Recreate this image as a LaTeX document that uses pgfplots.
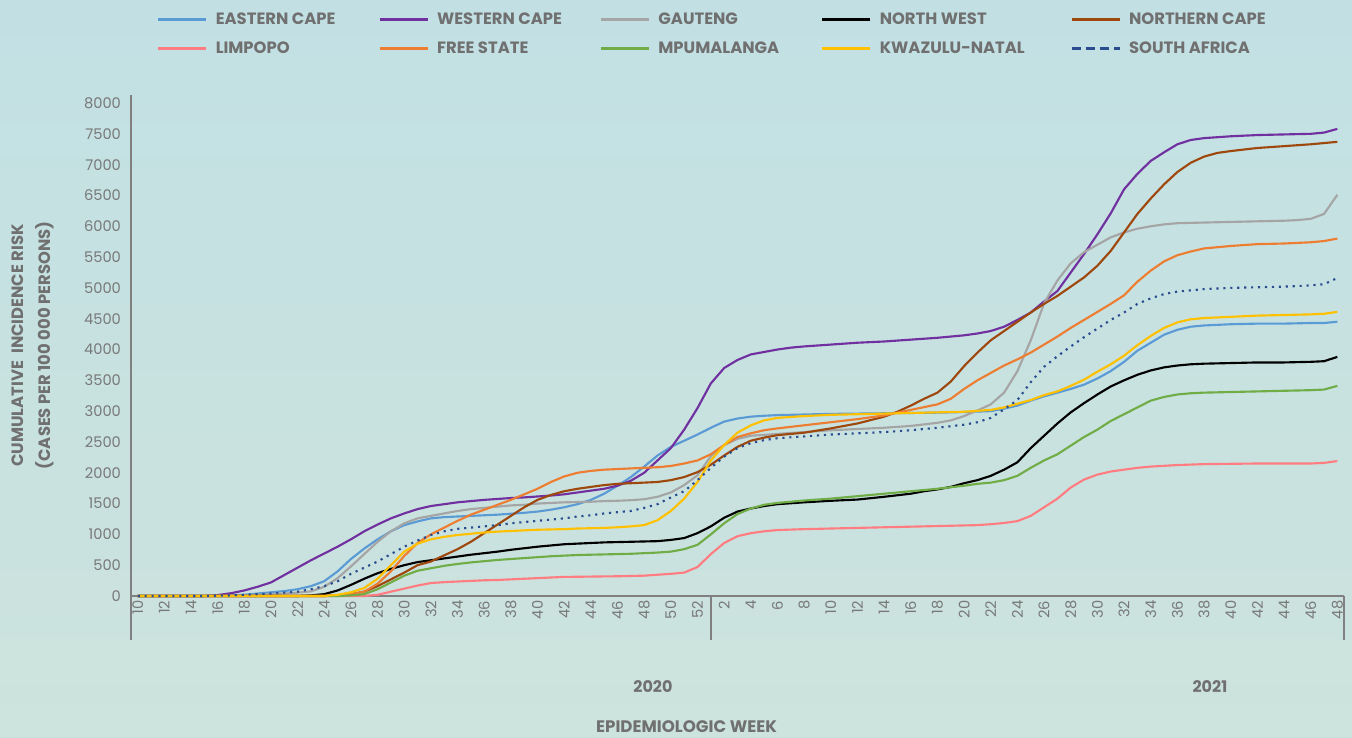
\documentclass[border=0pt]{standalone}
\usepackage{pgfplots}
\pgfplotsset{compat=1.18}
\usepackage{fontspec}
\setmainfont{Poppins}
\definecolor{bgtop}{RGB}{194,224,228}
\definecolor{bgbot}{RGB}{205,227,221}
\definecolor{axcol}{RGB}{128,128,128}
\definecolor{tickcol}{RGB}{120,120,120}
\definecolor{labcol}{RGB}{112,112,112}
\definecolor{ec}{HTML}{5B9BD5}
\definecolor{wc}{HTML}{7030A0}
\definecolor{gp}{HTML}{A5A5A5}
\definecolor{nw}{HTML}{000000}
\definecolor{nc}{HTML}{9E480E}
\definecolor{lp}{HTML}{FF7C80}
\definecolor{fs}{HTML}{ED7D31}
\definecolor{mp}{HTML}{70AD47}
\definecolor{kzn}{HTML}{FFC000}
\definecolor{sa}{HTML}{2A4D8F}
\newcommand{\lab}[2][112pt]{\makebox[#1][l]{#2}}
\begin{document}
\begin{tikzpicture}
% background, 1352x738 px at 0.75pt per px, axis box origin at (131,596) px
\shade[top color=bgtop, bottom color=bgbot] (-98.25pt,-106.5pt) rectangle (915.75pt,447pt);
\begin{axis}[
  name=ax, at={(0,0)}, anchor=south west,
  scale only axis, width=909.75pt, height=375.75pt,
  xmin=-0.5, xmax=90.5, ymin=0, ymax=8130,
  axis lines*=left,
  axis line style={axcol, line width=1pt},
  major tick length=0pt,
  clip=false,
  ytick={0,500,...,8000},
  xtick={0,2,...,42,44,46,...,90},
  xticklabels={10,12,14,16,18,20,22,24,26,28,30,32,34,36,38,40,42,44,46,48,50,52,
               2,4,6,8,10,12,14,16,18,20,22,24,26,28,30,32,34,36,38,40,42,44,46,48},
  /pgf/number format/assume math mode=true,
  /pgf/number format/1000 sep={},
  tick label style={font=\fontsize{11}{12}\selectfont, text=tickcol},
  xticklabel style={rotate=90, anchor=east},
  yticklabel style={xshift=-4pt},
  ylabel={CUMULATIVE\ \ INCIDENCE RISK\\(CASES PER 100 000 PERSONS)},
  ylabel style={align=center, font=\fontsize{12.3}{20}\selectfont\bfseries, text=labcol,
    at={(axis description cs:-0.081,0.5)}, anchor=center},
  xlabel={EPIDEMIOLOGIC WEEK},
  xlabel style={font=\fontsize{12.5}{14}\selectfont\bfseries, text=labcol,
    at={(axis description cs:0.458,-0.2615)}, anchor=center},
  every axis plot/.append style={line width=1.6pt},
  legend columns=5,
  legend cell align=left,
  legend image code/.code={\draw[#1, line width=2pt] (0pt,0pt) -- (36pt,0pt);},
  legend style={draw=none, fill=none, at={(0.018,1.175)}, anchor=north west,
    font=\fontsize{12.3}{14}\selectfont\bfseries, text=labcol,
    /tikz/every odd column/.append style={column sep=4pt},
    /tikz/every even column/.append style={column sep=8pt},
    row sep=7.5pt},
]
\addplot[ec] coordinates {(0,0)(5,0)(6,5)(7,10)(8,20)(9,40)(10,60)(11,80)(12,110)(13,160)(14,240)(15,400)(16,600)(17,770)(18,920)(19,1050)(20,1150)(21,1210)(22,1260)(23,1280)(24,1290)(25,1300)(26,1310)(27,1320)(28,1335)(29,1350)(30,1370)(31,1400)(32,1440)(33,1490)(34,1560)(35,1660)(36,1790)(37,1930)(38,2100)(39,2280)(40,2420)(41,2520)(42,2620)(43,2730)(44,2830)(45,2880)(46,2910)(47,2925)(48,2935)(50,2945)(52,2955)(56,2965)(60,2975)(62,2985)(64,3000)(65,3040)(66,3090)(67,3170)(68,3240)(69,3300)(70,3360)(71,3430)(72,3530)(73,3650)(74,3800)(75,3980)(76,4110)(77,4240)(78,4320)(79,4370)(80,4390)(82,4410)(84,4420)(86,4420)(88,4430)(89,4430)(90,4450)};
\addlegendentry{\lab{EASTERN CAPE}}
\addplot[wc] coordinates {(0,0)(5,0)(6,15)(7,45)(8,90)(9,150)(10,220)(11,340)(12,460)(13,580)(14,690)(15,800)(16,920)(17,1050)(18,1160)(19,1260)(20,1340)(21,1410)(22,1460)(23,1490)(24,1520)(25,1540)(26,1560)(27,1575)(28,1590)(29,1600)(30,1615)(31,1630)(32,1650)(33,1680)(34,1710)(35,1740)(36,1790)(37,1870)(38,2000)(39,2200)(40,2400)(41,2700)(42,3050)(43,3450)(44,3700)(45,3830)(46,3920)(47,3960)(48,4000)(49,4030)(50,4050)(52,4080)(54,4110)(56,4130)(58,4160)(60,4190)(62,4230)(63,4260)(64,4300)(65,4370)(66,4480)(67,4600)(68,4780)(69,4950)(70,5250)(71,5550)(72,5870)(73,6210)(74,6600)(75,6850)(76,7060)(77,7200)(78,7330)(79,7400)(80,7430)(82,7460)(84,7480)(86,7490)(88,7500)(89,7520)(90,7580)};
\addlegendentry{\lab{WESTERN CAPE}}
\addplot[gp] coordinates {(0,0)(6,0)(7,5)(8,10)(9,20)(10,30)(11,40)(12,55)(13,75)(14,150)(15,290)(16,480)(17,680)(18,880)(19,1050)(20,1180)(21,1260)(22,1300)(23,1340)(24,1380)(25,1410)(26,1430)(27,1450)(28,1470)(29,1480)(30,1500)(31,1510)(32,1520)(33,1525)(34,1530)(35,1540)(36,1545)(37,1555)(38,1570)(39,1610)(40,1680)(41,1800)(42,1960)(43,2270)(44,2450)(45,2550)(46,2600)(48,2630)(50,2660)(52,2690)(54,2710)(56,2730)(58,2760)(60,2810)(61,2850)(62,2920)(63,3010)(64,3110)(65,3300)(66,3650)(67,4150)(68,4750)(69,5120)(70,5400)(71,5580)(72,5700)(73,5820)(74,5900)(75,5960)(76,6000)(77,6030)(78,6050)(80,6060)(82,6070)(84,6080)(86,6090)(87,6100)(88,6120)(89,6200)(90,6510)};
\addlegendentry{\lab{GAUTENG}}
\addplot[nw] coordinates {(0,0)(12,0)(13,10)(14,30)(15,90)(16,180)(17,280)(18,370)(19,440)(20,500)(21,550)(22,580)(23,610)(24,640)(25,670)(26,695)(27,720)(28,750)(29,775)(30,800)(31,820)(32,840)(33,850)(34,860)(35,870)(36,875)(37,880)(38,885)(39,890)(40,910)(41,940)(42,1020)(43,1130)(44,1270)(45,1370)(46,1420)(47,1460)(48,1490)(50,1520)(52,1545)(54,1565)(56,1610)(58,1660)(59,1700)(60,1730)(61,1770)(62,1830)(63,1880)(64,1950)(65,2050)(66,2170)(67,2400)(68,2600)(69,2800)(70,2980)(71,3130)(72,3270)(73,3400)(74,3500)(75,3590)(76,3660)(77,3710)(78,3740)(79,3760)(80,3770)(82,3780)(84,3790)(86,3790)(88,3800)(89,3810)(90,3880)};
\addlegendentry{\lab[133pt]{NORTH WEST}}
\addplot[nc] coordinates {(0,0)(14,0)(15,10)(16,30)(17,70)(18,160)(19,270)(20,380)(21,500)(22,560)(23,660)(24,760)(25,880)(26,1020)(27,1160)(28,1300)(29,1440)(30,1560)(31,1640)(32,1700)(33,1740)(34,1770)(35,1800)(36,1820)(37,1830)(38,1840)(39,1850)(40,1880)(41,1930)(42,2010)(43,2130)(44,2280)(45,2420)(46,2520)(47,2570)(48,2610)(50,2650)(52,2720)(54,2800)(56,2910)(57,2990)(58,3090)(59,3200)(60,3300)(61,3480)(62,3730)(63,3950)(64,4150)(65,4300)(66,4450)(67,4600)(68,4740)(69,4870)(70,5020)(71,5170)(72,5360)(73,5600)(74,5900)(75,6200)(76,6450)(77,6680)(78,6880)(79,7030)(80,7130)(81,7190)(82,7220)(84,7270)(86,7300)(88,7330)(90,7370)};
\addlegendentry{NORTHERN CAPE}
\addplot[lp] coordinates {(0,0)(17,0)(18,20)(19,70)(20,120)(21,170)(22,210)(23,225)(24,235)(25,245)(26,255)(27,260)(28,270)(29,280)(30,290)(31,300)(32,310)(33,312)(34,315)(35,318)(36,320)(37,325)(38,330)(39,345)(40,360)(41,380)(42,470)(43,680)(44,860)(45,970)(46,1020)(47,1050)(48,1070)(50,1085)(52,1095)(54,1105)(56,1115)(58,1125)(60,1135)(62,1145)(63,1150)(64,1165)(65,1185)(66,1215)(67,1300)(68,1440)(69,1580)(70,1760)(71,1890)(72,1970)(73,2020)(74,2050)(75,2080)(76,2100)(78,2125)(80,2140)(84,2150)(88,2150)(89,2160)(90,2190)};
\addlegendentry{\lab{LIMPOPO}}
\addplot[fs] coordinates {(0,0)(14,0)(15,10)(16,30)(17,70)(18,200)(19,400)(20,650)(21,860)(22,1000)(23,1110)(24,1220)(25,1320)(26,1400)(27,1480)(28,1560)(29,1650)(30,1740)(31,1850)(32,1940)(33,2000)(34,2030)(35,2050)(36,2060)(37,2070)(38,2080)(39,2090)(40,2110)(41,2150)(42,2200)(43,2300)(44,2450)(45,2580)(46,2640)(47,2690)(48,2720)(50,2770)(52,2820)(54,2870)(56,2930)(58,3020)(60,3110)(61,3200)(62,3360)(63,3500)(64,3620)(65,3740)(66,3840)(67,3950)(68,4080)(69,4210)(70,4350)(71,4480)(72,4610)(73,4740)(74,4880)(75,5100)(76,5280)(77,5430)(78,5530)(79,5590)(80,5640)(82,5680)(84,5710)(86,5720)(88,5740)(89,5760)(90,5800)};
\addlegendentry{\lab{FREE STATE}}
\addplot[mp] coordinates {(0,0)(15,0)(16,10)(17,30)(18,110)(19,220)(20,330)(21,410)(22,450)(23,490)(24,520)(25,545)(26,565)(27,585)(28,600)(29,615)(30,630)(31,645)(32,655)(33,665)(34,670)(35,675)(36,680)(37,685)(38,695)(39,705)(40,720)(41,760)(42,830)(43,1000)(44,1180)(45,1330)(46,1420)(47,1480)(48,1510)(50,1550)(52,1580)(54,1620)(56,1660)(58,1700)(60,1740)(62,1790)(63,1820)(64,1840)(65,1880)(66,1950)(67,2080)(68,2200)(69,2300)(70,2440)(71,2580)(72,2700)(73,2840)(74,2950)(75,3060)(76,3170)(77,3230)(78,3270)(79,3290)(80,3300)(82,3310)(84,3320)(86,3330)(88,3340)(89,3350)(90,3410)};
\addlegendentry{\lab{MPUMALANGA}}
\addplot[kzn] coordinates {(0,0)(14,0)(15,20)(16,60)(17,130)(18,280)(19,500)(20,720)(21,850)(22,920)(23,960)(24,990)(25,1010)(26,1030)(27,1045)(28,1055)(29,1065)(30,1075)(31,1080)(32,1085)(33,1095)(34,1100)(35,1105)(36,1115)(37,1130)(38,1150)(39,1230)(40,1380)(41,1580)(42,1850)(43,2200)(44,2450)(45,2650)(46,2770)(47,2850)(48,2890)(50,2920)(52,2940)(54,2950)(56,2960)(58,2970)(60,2980)(62,2990)(64,3020)(65,3060)(66,3120)(67,3180)(68,3260)(69,3320)(70,3410)(71,3510)(72,3640)(73,3760)(74,3900)(75,4070)(76,4220)(77,4350)(78,4440)(79,4490)(80,4510)(82,4530)(84,4550)(86,4560)(88,4570)(89,4580)(90,4610)};
\addlegendentry{\lab[133pt]{KWAZULU-NATAL}}
\addplot[sa, dash pattern=on 1.6pt off 3.6pt,
  legend image code/.code={\draw[sa, line width=2pt, dash pattern=on 7pt off 3.5pt] (0pt,0pt) -- (36pt,0pt);}]
  coordinates {(0,0)(5,0)(6,5)(7,10)(8,20)(9,30)(10,40)(11,55)(12,70)(13,110)(14,160)(15,240)(16,360)(17,460)(18,560)(19,680)(20,800)(21,900)(22,990)(23,1050)(24,1090)(25,1110)(26,1130)(27,1150)(28,1180)(29,1200)(30,1220)(31,1240)(32,1260)(33,1290)(34,1310)(35,1340)(36,1360)(37,1380)(38,1430)(39,1490)(40,1600)(41,1700)(42,1880)(43,2080)(44,2260)(45,2400)(46,2480)(47,2530)(48,2560)(50,2590)(52,2620)(54,2640)(56,2660)(58,2690)(60,2730)(62,2780)(63,2820)(64,2890)(65,3030)(66,3180)(67,3470)(68,3720)(69,3890)(70,4050)(71,4200)(72,4340)(73,4480)(74,4600)(75,4740)(76,4830)(77,4900)(78,4940)(79,4960)(80,4980)(82,5000)(84,5010)(86,5020)(88,5040)(89,5060)(90,5160)};
\addlegendentry{SOUTH AFRICA}
% group separators below the week labels
\draw[axcol, line width=1pt] (axis cs:-0.5,0) -- ++(0pt,-33pt);
\draw[axcol, line width=1pt] (axis cs:43,0) -- ++(0pt,-33pt);
\draw[axcol, line width=1pt] (axis cs:90.5,0) -- ++(0pt,-33pt);
\node[font=\fontsize{12}{14}\selectfont\bfseries, text=labcol] at (axis description cs:0.4303,-0.1816) {2020};
\node[font=\fontsize{12}{14}\selectfont\bfseries, text=labcol] at (axis description cs:0.8895,-0.1816) {2021};
\end{axis}
\pgfresetboundingbox
\path (-98.25pt,-106.5pt) rectangle (915.75pt,447pt);
\end{tikzpicture}
\end{document}
